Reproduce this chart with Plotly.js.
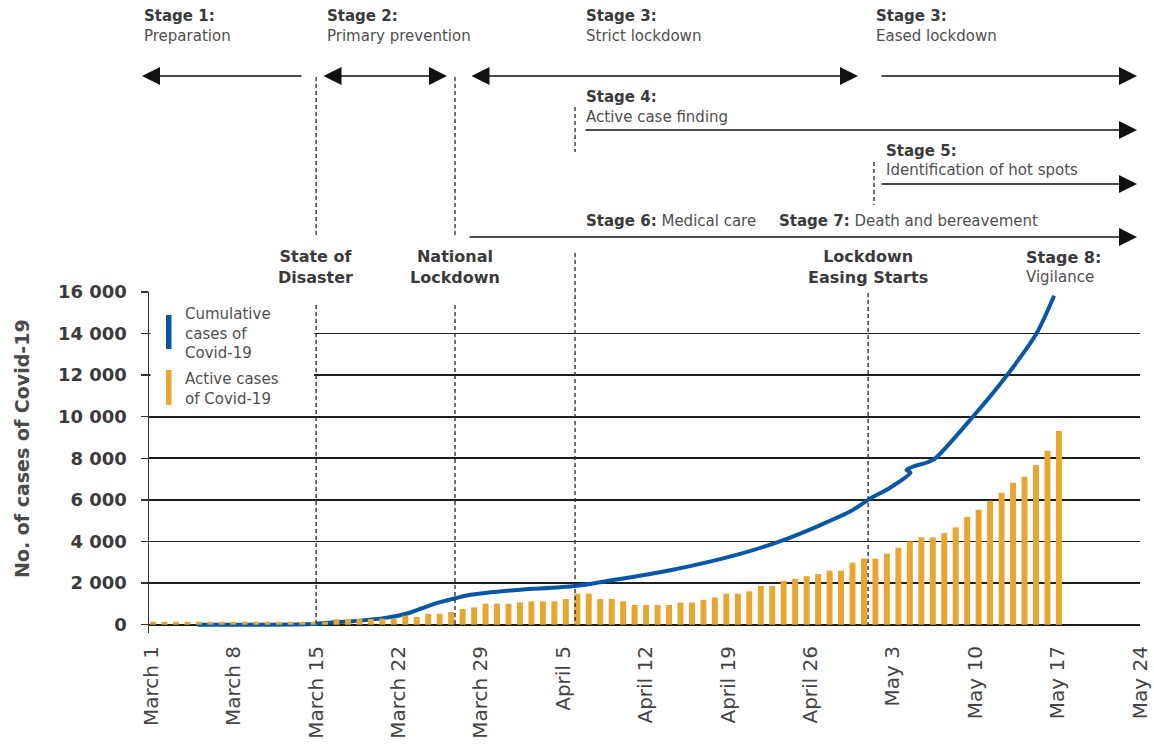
<!DOCTYPE html>
<html><head><meta charset="utf-8">
<script src="https://cdn.plot.ly/plotly-3.0.1.min.js"></script>
<style>html,body{margin:0;padding:0;background:#fff}#chart{width:1154px;height:744px}</style>
</head><body><div id="chart"></div>
<script>
// ---- data ----
const tickDays = [0, 7, 14, 21, 28, 35, 42, 49, 56, 63, 70, 77, 84];
const tickLabels = ['March 1', 'March 8', 'March 15', 'March 22', 'March 29', 'April 5', 'April 12',
  'April 19', 'April 26', 'May 3', 'May 10', 'May 17', 'May 24'];

// active cases (one bar per reporting day)
const activeCases = [140, 140, 140, 140, 140, 140, 140, 140, 140, 140,
  140, 140, 140, 140, 140, 140, 260, 272, 272, 272,
  288, 288, 433, 369, 520, 520, 609, 753, 833, 1010,
  1010, 1010, 1074, 1122, 1122, 1122, 1234, 1490, 1490, 1234,
  1234, 1122, 946, 946, 946, 946, 1066, 1066, 1194, 1306,
  1490, 1490, 1603, 1859, 1859, 2107, 2212, 2332, 2436, 2596,
  2596, 2980, 3180, 3173, 3414, 3702, 4006, 4199, 4199, 4407,
  4680, 5176, 5529, 5962, 6346, 6827, 7116, 7678, 8366, 9312];

// cumulative cases curve (days after March 1)
const cumDay = [3.9, 9.2, 13.0, 14.3, 15.8, 17.1, 20.0, 21.5, 23.0, 24.3,
  25.8, 27.1, 28.8, 29.6, 31.6, 36.0, 38.5, 44.1, 49.8, 53.4,
  56.8, 59.4, 61.0, 62.8, 64.5, 64.15, 64.9, 65.9, 66.6, 69.8,
  72.7, 75.2, 76.7];
const cumCases = [0, 0, 20, 60, 130, 170, 340, 500, 790, 1050,
  1270, 1440, 1555, 1600, 1690, 1860, 2080, 2620, 3370, 4005,
  4780, 5450, 6040, 6600, 7320, 7440, 7640, 7800, 8000, 10000,
  12000, 14000, 15820];

// event markers (days after March 1)
const eventDisaster = 14.0, eventLockdown = 25.8, eventStage4 = 36.0, eventEasing = 60.9, eventStage5 = 61.4;

// ---- layout helpers ----
const L = 149, R = 1140, T = 292, B = 633;
const W = R - L, H = B - T;
const px = v => (v - L) / W;
const py = v => (B - v) / H;
const FONT = 'DejaVu Sans';
const DARK = '#3a3a3a', MID = '#4f4f4f';
const GRID = '#1f1f1f';

const barIdx = activeCases.map((_, i) => i);

const traces = [
  {type: 'bar', x: barIdx, y: activeCases, xaxis: 'x2', yaxis: 'y',
   marker: {color: '#E8A530', line: {width: 0}}, width: 0.52, hoverinfo: 'y', showlegend: false},
  {type: 'scatter', mode: 'lines', x: cumDay, y: cumCases, xaxis: 'x', yaxis: 'y',
   line: {color: '#0757A6', width: 4, shape: 'spline', smoothing: 0.8}, showlegend: false}
];

const dash = {color: '#333', width: 1.4, dash: '4px,3px'};
const shapes = [
  // white box behind legend
  {type: 'rect', xref: 'paper', yref: 'paper', x0: px(150.5), x1: px(314), y0: py(411), y1: py(300),
   fillcolor: '#fff', line: {width: 0}, layer: 'above'},
  // event dashed lines
  {type: 'line', xref: 'x', yref: 'paper', x0: eventDisaster, x1: eventDisaster, y0: py(77), y1: py(237), line: dash},
  {type: 'line', xref: 'x', yref: 'paper', x0: eventDisaster, x1: eventDisaster, y0: py(305), y1: py(625), line: dash},
  {type: 'line', xref: 'x', yref: 'paper', x0: eventLockdown, x1: eventLockdown, y0: py(77), y1: py(237), line: dash},
  {type: 'line', xref: 'x', yref: 'paper', x0: eventLockdown, x1: eventLockdown, y0: py(305), y1: py(625), line: dash},
  {type: 'line', xref: 'x', yref: 'paper', x0: eventStage4, x1: eventStage4, y0: py(107), y1: py(152), line: dash},
  {type: 'line', xref: 'x', yref: 'paper', x0: eventStage4, x1: eventStage4, y0: py(253), y1: py(625), line: dash},
  {type: 'line', xref: 'x', yref: 'paper', x0: eventEasing, x1: eventEasing, y0: py(293), y1: py(625), line: dash},
  {type: 'line', xref: 'x', yref: 'paper', x0: eventStage5, x1: eventStage5, y0: py(162), y1: py(205), line: dash},
  // legend swatches
  {type: 'rect', xref: 'paper', yref: 'paper', x0: px(166), x1: px(171.5), y0: py(349), y1: py(315),
   fillcolor: '#0757A6', line: {width: 0}, layer: 'above'},
  {type: 'rect', xref: 'paper', yref: 'paper', x0: px(166), x1: px(171.5), y0: py(405), y1: py(370),
   fillcolor: '#E8A530', line: {width: 0}, layer: 'above'}
];

const annotations = [];
function txt(text, x, y, size, opts) {
  annotations.push(Object.assign({xref: 'paper', yref: 'paper', x: px(x), y: py(y), text: text,
    showarrow: false, xanchor: 'left', yanchor: 'middle', align: 'left',
    font: {family: FONT, size: size, color: MID}}, opts || {}));
}
function arrow(head, tail, y, both) {
  annotations.push({xref: 'paper', yref: 'paper', x: px(head), y: py(y), ax: tail - head, ay: 0,
    axref: 'pixel', ayref: 'pixel', text: '', showarrow: true, arrowhead: 2, arrowsize: 2.4,
    arrowwidth: 1.5, arrowcolor: '#111', standoff: 0, startstandoff: 0,
    arrowside: both ? 'end+start' : 'end', startarrowhead: 2, startarrowsize: 2.4});
}
const H15 = {family: FONT, size: 15, color: DARK};
const H16 = {family: FONT, size: 16, color: DARK};
// stage headings
txt('<b>Stage 1:</b>', 142, 16, 15, {font: H15});
txt('Preparation', 142, 36, 15);
txt('<b>Stage 2:</b>', 325, 16, 15, {font: H15});
txt('Primary prevention', 325, 36, 15);
txt('<b>Stage 3:</b>', 584, 16, 15, {font: H15});
txt('Strict lockdown', 584, 36, 15);
txt('<b>Stage 3:</b>', 874, 16, 15, {font: H15});
txt('Eased lockdown', 874, 36, 15);
txt('<b>Stage 4:</b>', 584, 97, 15, {font: H15});
txt('Active case finding', 584, 117, 15);
txt('<b>Stage 5:</b>', 884, 151, 15, {font: H15});
txt('Identification of hot spots', 884, 170, 15);
txt('<b><span style="color:' + DARK + '">Stage 6:</span></b> Medical care', 584, 221, 15);
txt('<b><span style="color:' + DARK + '">Stage 7:</span></b> Death and bereavement', 777, 221, 15);
// event labels
txt('<b>State of<br>Disaster</b>', 315, 267, 16, {xanchor: 'center', align: 'center', font: H16});
txt('<b>National<br>Lockdown</b>', 455, 267, 16, {xanchor: 'center', align: 'center', font: H16});
txt('<b>Lockdown<br>Easing Starts</b>', 868, 267, 16, {xanchor: 'center', align: 'center', font: H16});
txt('<b>Stage 8:</b>', 1024, 257, 16, {font: H16});
txt('Vigilance', 1024, 277, 15);
// legend text
txt('Cumulative<br>cases of<br>Covid-19', 183, 333, 15);
txt('Active cases<br>of Covid-19', 183, 389, 15);
// y title
txt('<b>No. of cases of Covid-19</b>', 22, 449, 19, {xanchor: 'center', textangle: -90,
  font: {family: FONT, size: 19, color: '#4a4a4a'}});
// arrows
arrow(142, 303, 76, false);
arrow(447, 322, 76, true);
arrow(858, 470, 76, true);
arrow(1137, 880, 76, false);
arrow(1137, 584, 130, false);
arrow(1137, 880, 184, false);
arrow(1137, 468, 237, false);

const layout = {
  width: 1154, height: 744,
  margin: {l: L, r: 1154 - R, t: T, b: 744 - B, pad: 0},
  paper_bgcolor: '#fff', plot_bgcolor: '#fff',
  separators: '. ',
  font: {family: FONT, color: DARK},
  showlegend: false,
  xaxis: {range: [-0.2, 84], tickvals: tickDays, ticktext: tickLabels, tickangle: -90,
    showgrid: false, zeroline: false, showline: false, ticks: '', ticklabelstandoff: 8,
    tickfont: {family: FONT, size: 20, color: '#444'}, fixedrange: true},
  xaxis2: {overlaying: 'x', anchor: 'y', range: [-0.349, 86.07], visible: false, fixedrange: true},
  yaxis: {range: [-400, 16000], tickvals: [0, 2000, 4000, 6000, 8000, 10000, 12000, 14000, 16000],
    tickformat: ',d', showgrid: true, gridcolor: GRID, gridwidth: 1.7,
    zeroline: true, zerolinecolor: GRID, zerolinewidth: 1.8,
    showline: true, linecolor: '#333', linewidth: 1.5,
    ticks: 'outside', ticklen: 7, tickcolor: '#333', tickwidth: 1.4, ticklabelstandoff: 10,
    tickfont: {family: FONT, size: 18, color: DARK, weight: 'bold'}, fixedrange: true},
  shapes: shapes,
  annotations: annotations
};

Plotly.newPlot('chart', traces, layout, {displayModeBar: false, staticPlot: true});
</script></body></html>
